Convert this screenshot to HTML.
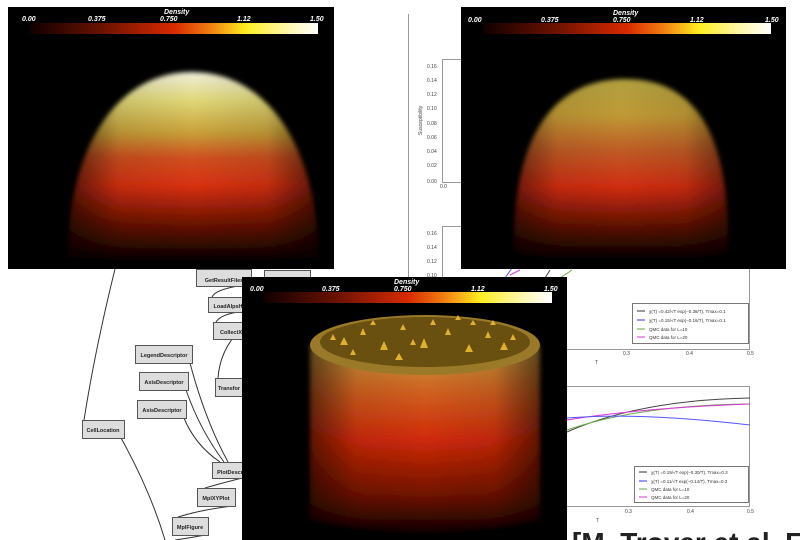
<!DOCTYPE html>
<html><head><meta charset="utf-8"><style>
html,body{margin:0;padding:0;background:#fff;}
body{width:800px;height:540px;position:relative;overflow:hidden;font-family:"Liberation Sans",sans-serif;}
</style></head><body>
<svg width="800" height="540" viewBox="0 0 800 540" style="position:absolute;left:0;top:0">
<defs>
<linearGradient id="cb" x1="0" x2="1" y1="0" y2="0">
<stop offset="0" stop-color="#100000"/><stop offset="0.25" stop-color="#6a1200"/><stop offset="0.5" stop-color="#d82a00"/><stop offset="0.62" stop-color="#f07a10"/><stop offset="0.75" stop-color="#ffee20"/><stop offset="0.88" stop-color="#fff6a0"/><stop offset="1" stop-color="#ffffff"/>
</linearGradient>
<linearGradient id="d1" x1="0" x2="0" y1="0" y2="1">
<stop offset="0" stop-color="#f0eedc"/><stop offset="0.15" stop-color="#e0d878"/><stop offset="0.32" stop-color="#c8a038"/><stop offset="0.45" stop-color="#d05020"/><stop offset="0.6" stop-color="#d83010"/><stop offset="0.8" stop-color="#6a1200"/><stop offset="1" stop-color="#000"/>
</linearGradient>
<linearGradient id="d2" x1="0" x2="0" y1="0" y2="1">
<stop offset="0" stop-color="#b0a040"/><stop offset="0.2" stop-color="#c09a35"/><stop offset="0.4" stop-color="#c05a25"/><stop offset="0.6" stop-color="#d02c10"/><stop offset="0.82" stop-color="#5a1000"/><stop offset="1" stop-color="#000"/>
</linearGradient>
<linearGradient id="d3" x1="0" x2="0" y1="0" y2="1">
<stop offset="0" stop-color="#c8a040"/><stop offset="0.25" stop-color="#d06020"/><stop offset="0.5" stop-color="#d02a08"/><stop offset="0.8" stop-color="#701200"/><stop offset="1" stop-color="#100000"/>
</linearGradient>
<linearGradient id="sh" x1="0" x2="1" y1="0" y2="0">
<stop offset="0" stop-color="#000" stop-opacity="0.6"/><stop offset="0.2" stop-color="#000" stop-opacity="0.1"/><stop offset="0.5" stop-color="#000" stop-opacity="0"/><stop offset="0.8" stop-color="#000" stop-opacity="0.1"/><stop offset="1" stop-color="#000" stop-opacity="0.6"/>
</linearGradient>
<filter id="bl" x="-10%" y="-10%" width="120%" height="120%"><feGaussianBlur stdDeviation="2.5"/></filter>
</defs>

<!-- right plots background -->
<g stroke="#999" fill="none" stroke-width="1">
<line x1="408.5" y1="14" x2="408.5" y2="540"/>
<rect x="442.5" y="59.5" width="320" height="123"/>
<rect x="442.5" y="226.5" width="307" height="123"/>
<rect x="442.5" y="386.5" width="307" height="120"/>
<rect x="632.5" y="303.5" width="116" height="40" stroke="#777"/>
<rect x="634.5" y="466.5" width="114" height="36" stroke="#777"/>
</g>
<g font-size="5" fill="#444">
<text x="427" y="68">0.16</text><text x="427" y="82">0.14</text><text x="427" y="96">0.12</text><text x="427" y="110">0.10</text><text x="427" y="125">0.08</text><text x="427" y="139">0.06</text><text x="427" y="153">0.04</text><text x="427" y="167">0.02</text><text x="427" y="183">0.00</text><text x="440" y="188">0.0</text>
<text x="427" y="235">0.16</text><text x="427" y="249">0.14</text><text x="427" y="263">0.12</text><text x="427" y="277">0.10</text>
<text x="623" y="355">0.3</text><text x="686" y="355">0.4</text><text x="747" y="355">0.5</text><text x="595" y="364">T</text>
<text x="625" y="513">0.3</text><text x="687" y="513">0.4</text><text x="747" y="513">0.5</text><text x="596" y="522">T</text>
<text transform="translate(422,135) rotate(-90)">Susceptibility</text>
</g>
<g font-size="4.5" fill="#333">
<line x1="637" y1="311" x2="645" y2="311" stroke="#333"/><text x="649" y="313">χ(T) =0.42/√T exp(−0.38/T), Tmax=0.1</text>
<line x1="637" y1="320" x2="645" y2="320" stroke="#33f"/><text x="649" y="322">χ(T) =0.15/√T exp(−0.16/T), Tmax=0.1</text>
<line x1="637" y1="329" x2="645" y2="329" stroke="#6a4"/><text x="649" y="331">QMC data for L=10</text>
<line x1="637" y1="337" x2="645" y2="337" stroke="#d3d"/><text x="649" y="339">QMC data for L=20</text>
<line x1="639" y1="472" x2="647" y2="472" stroke="#333"/><text x="651" y="474">χ(T) =0.19/√T exp(−0.30/T), Tmax=0.3</text>
<line x1="639" y1="481" x2="647" y2="481" stroke="#33f"/><text x="651" y="483">χ(T) =0.11/√T exp(−0.14/T), Tmax=0.3</text>
<line x1="639" y1="489" x2="647" y2="489" stroke="#6a4"/><text x="651" y="491">QMC data for L=10</text>
<line x1="639" y1="497" x2="647" y2="497" stroke="#d3d"/><text x="651" y="499">QMC data for L=20</text>
</g>
<g fill="none" stroke-width="1">
<path d="M567 432 Q640 400 750 398" stroke="#444"/>
<path d="M567 430 Q640 405 750 404" stroke="#6a4"/>
<path d="M567 420 Q640 408 750 404" stroke="#d3d"/>
<path d="M567 418 Q640 412 750 425" stroke="#55f"/>
<path d="M505 278 L512 268" stroke="#55f"/><path d="M510 275 L520 270" stroke="#d3d"/><path d="M545 278 L550 270" stroke="#444"/><path d="M560 278 L572 270" stroke="#6a4"/>
</g>
<text x="572" y="552" font-size="28" fill="#222" font-weight="bold">[M. Troyer et al. ETH Z</text>

<!-- workflow -->
<g fill="none" stroke="#333" stroke-width="1">
<path d="M115 269 Q95 350 84 420"/>
<path d="M121 438 Q150 490 165 540"/>
<path d="M190 363 Q205 420 228 462"/>
<path d="M186 390 Q200 430 224 462"/>
<path d="M184 418 Q195 445 220 462"/>
<path d="M238 286 Q215 290 212 297"/>
<path d="M238 312 Q220 315 216 322"/>
<path d="M240 330 Q220 350 218 378"/>
<path d="M242 478 Q215 485 205 488"/>
<path d="M232 506 Q200 510 178 517"/>
<path d="M205 535 Q190 538 175 540"/>
</g>
<g fill="#ddd" stroke="#555" stroke-width="1" font-size="5.5" text-anchor="middle">
<rect x="196.5" y="269.5" width="55" height="17"/>
<rect x="264.5" y="270.5" width="46" height="15"/>
<rect x="208.5" y="297.5" width="40" height="15"/>
<rect x="213.5" y="322.5" width="35" height="17"/>
<rect x="135.5" y="345.5" width="57" height="18"/>
<rect x="139.5" y="372.5" width="49" height="18"/>
<rect x="137.5" y="400.5" width="49" height="18"/>
<rect x="82.5" y="420.5" width="42" height="18"/>
<rect x="215.5" y="378.5" width="30" height="18"/>
<rect x="212.5" y="462.5" width="32" height="16"/>
<rect x="197.5" y="488.5" width="38" height="18"/>
<rect x="172.5" y="517.5" width="36" height="18"/>
</g>
<g fill="#222" font-size="5.5" font-weight="bold" text-anchor="middle">
<text x="224" y="282">GetResultFiles</text>
<text x="228" y="308">LoadAlpsH</text>
<text x="231" y="334">CollectX</text>
<text x="164" y="357">LegendDescriptor</text>
<text x="164" y="384">AxisDescriptor</text>
<text x="162" y="412">AxisDescriptor</text>
<text x="103" y="432">CellLocation</text>
<text x="229" y="390">Transfor</text>
<text x="230" y="474">PlotDescr</text>
<text x="216" y="500">MplXYPlot</text>
<text x="190" y="529">MplFigure</text>
</g>

<!-- panels -->
<g font-size="7" font-style="italic" font-weight="bold" fill="#fff">
<!-- left -->
<rect x="8" y="7" width="326" height="262" fill="#000"/>
<rect x="30" y="23" width="288" height="11" fill="url(#cb)"/>
<text x="22" y="21">0.00</text><text x="88" y="21">0.375</text><text x="160" y="21">0.750</text><text x="237" y="21">1.12</text><text x="310" y="21">1.50</text><text x="164" y="14">Density</text>
<g filter="url(#bl)">
<path d="M68 262 C66 160 110 72 192 72 C274 72 320 160 318 262 Z" fill="url(#d1)"/>
<path d="M68 262 C66 160 110 72 192 72 C274 72 320 160 318 262 Z" fill="url(#sh)"/>
</g>
<!-- right -->
<rect x="461" y="7" width="325" height="262" fill="#000"/>
<rect x="483" y="23" width="288" height="11" fill="url(#cb)"/>
<text x="468" y="22">0.00</text><text x="541" y="22">0.375</text><text x="613" y="22">0.750</text><text x="690" y="22">1.12</text><text x="765" y="22">1.50</text><text x="613" y="15">Density</text>
<g filter="url(#bl)">
<path d="M514 252 C512 150 545 79 625 79 C705 79 730 150 728 252 C700 262 545 262 514 252 Z" fill="url(#d2)"/>
<path d="M514 252 C512 150 545 79 625 79 C705 79 730 150 728 252 Z" fill="url(#sh)" opacity="0.8"/>
</g>
<!-- bottom -->
<rect x="242" y="277" width="325" height="263" fill="#000"/>
<rect x="264" y="292" width="288" height="11" fill="url(#cb)"/>
<text x="250" y="291">0.00</text><text x="322" y="291">0.375</text><text x="394" y="291">0.750</text><text x="471" y="291">1.12</text><text x="544" y="291">1.50</text><text x="394" y="284">Density</text>
<g filter="url(#bl)">
<path d="M310 345 L310 520 Q424 545 540 520 L540 345 Z" fill="url(#d3)"/>
<path d="M310 345 L310 520 Q424 545 540 520 L540 345 Z" fill="url(#sh)" opacity="0.9"/>
</g>
<ellipse cx="425" cy="345" rx="115" ry="30" fill="#9a7a28"/>
<ellipse cx="425" cy="342" rx="105" ry="25" fill="#6a5010"/>
<g fill="#e0b030">
<path d="M340 345 l4 -8 l4 8z M360 335 l3 -7 l3 7z M380 350 l4 -9 l4 9z M400 330 l3 -6 l3 6z M420 348 l4 -10 l4 10z M445 335 l3 -7 l3 7z M465 352 l4 -8 l4 8z M485 338 l3 -7 l3 7z M500 350 l4 -8 l4 8z M350 355 l3 -6 l3 6z M430 325 l3 -6 l3 6z M470 325 l3 -5 l3 5z M395 360 l4 -7 l4 7z M330 340 l3 -6 l3 6z M510 340 l3 -6 l3 6z M370 325 l3 -5 l3 5z M455 320 l3 -5 l3 5z M410 345 l3 -6 l3 6z M490 325 l3 -5 l3 5z"/>
</g>
</g>
</svg>
</body></html>
